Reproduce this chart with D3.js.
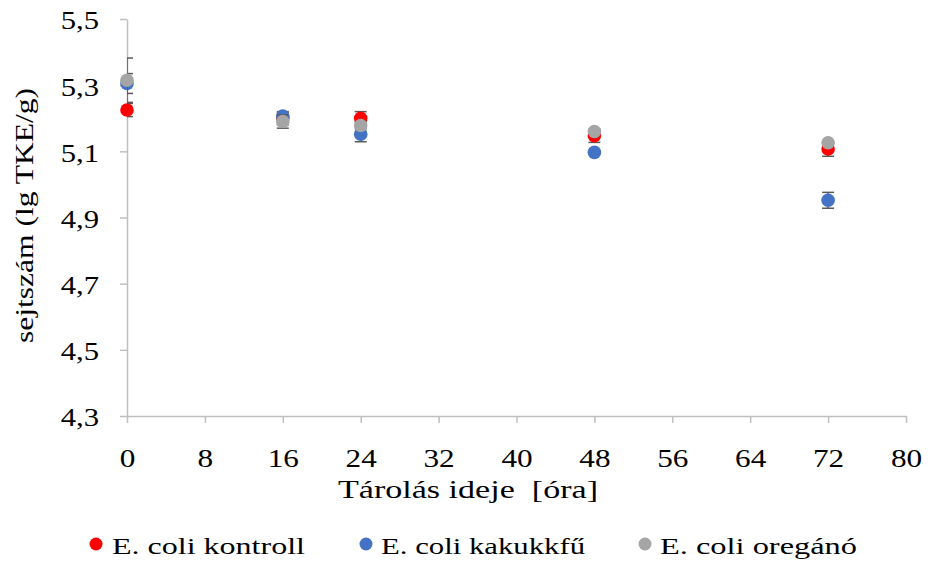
<!DOCTYPE html>
<html><head><meta charset="utf-8">
<script src="https://cdn.jsdelivr.net/npm/d3@7"></script>
<style>
html,body{margin:0;padding:0;background:#fff}
svg text{font-family:"Liberation Serif","Times New Roman",Times,serif;fill:#000}
</style>
</head><body>
<svg id="c" width="931" height="562"></svg>
<script>
const hours = [0, 16, 24, 48, 72];
const seriesNames = ["E. coli kontroll", "E. coli kakukkfű", "E. coli oregánó"];
const kontroll = [5.225, 5.200, 5.200, 5.147, 5.107];
const kontrollErr = [0.020, 0.020, 0.020, 0.020, 0.022];
const kakukk = [5.305, 5.207, 5.152, 5.097, 4.952];
const kakukkErr = [0.030, 0.010, 0.023, 0.005, 0.024];
const oregano = [5.315, 5.190, 5.178, 5.160, 5.126];
const oreganoErr = [0.067, 0.020, 0.010, 0.005, 0.005];
const xTicks = [0, 8, 16, 24, 32, 40, 48, 56, 64, 72, 80];
const yTicks = [4.3, 4.5, 4.7, 4.9, 5.1, 5.3, 5.5];
const xTitle = "Tárolás ideje\u00a0 [óra]";
const yTitle = "sejtszám (lg TKE/g)";
const colors = ["#ff0000", "#4472c4", "#a5a5a5"];

const series = [
  {name: seriesNames[0], vals: kontroll, err: kontrollErr, color: colors[0]},
  {name: seriesNames[1], vals: kakukk, err: kakukkErr, color: colors[1]},
  {name: seriesNames[2], vals: oregano, err: oreganoErr, color: colors[2]}
];

const svg = d3.select("#c");
const x = d3.scaleLinear().domain([0, 80]).range([127, 906]);
const y = d3.scaleLinear().domain([4.3, 5.5]).range([416, 19]);
const fmt = d => d3.format(".1f")(d).replace(".", ",");

function stretch(sel, ratio) {
  sel.each(function () {
    const w = this.getComputedTextLength();
    d3.select(this).attr("textLength", w * ratio).attr("lengthAdjust", "spacingAndGlyphs");
  });
}

// axes
const xa = svg.append("g").attr("transform", `translate(0,${y(4.3)})`)
  .call(d3.axisBottom(x).tickValues(xTicks).tickSize(7).tickSizeOuter(0).tickPadding(26));
const ya = svg.append("g").attr("transform", `translate(${x(0)},0)`)
  .call(d3.axisLeft(y).tickValues(yTicks).tickFormat(fmt).tickSize(7).tickSizeOuter(0).tickPadding(28));
[xa, ya].forEach(a => {
  a.attr("font-family", null).attr("font-size", null);
  a.selectAll("path,line").attr("stroke", "#bfbfbf").attr("stroke-width", 1.5);
  a.selectAll("text").style("font-size", "26px").attr("fill", "#000");
});
xa.selectAll("text").attr("dy", "0.71em").attr("text-anchor", "middle");
ya.selectAll("text").attr("dy", "0.38em").attr("text-anchor", "start");
stretch(xa.selectAll("text"), 1.2);
stretch(ya.selectAll("text"), 1.18);
ya.selectAll("text").each(function () {
  const w = +d3.select(this).attr("textLength");
  d3.select(this).attr("x", -28 - w);
});

// clip for error bars (plot area)
svg.append("clipPath").attr("id", "pa").append("rect")
  .attr("x", x(0)).attr("y", 0).attr("width", x(80) - x(0)).attr("height", y(4.3));

// points + error bars
series.forEach(s => {
  const g = svg.append("g");
  const data = hours.map((h, i) => ({h, v: s.vals[i], e: s.err[i]}));
  const eb = g.append("g").attr("clip-path", "url(#pa)").selectAll(".eb").data(data).enter().append("g")
    .attr("stroke", "#595959").attr("stroke-width", 1.5);
  eb.append("line").attr("x1", d => x(d.h)).attr("x2", d => x(d.h)).attr("y1", d => y(d.v - d.e)).attr("y2", d => y(d.v + d.e));
  eb.append("line").attr("x1", d => x(d.h) - 6).attr("x2", d => x(d.h) + 6).attr("y1", d => y(d.v + d.e)).attr("y2", d => y(d.v + d.e));
  eb.append("line").attr("x1", d => x(d.h) - 6).attr("x2", d => x(d.h) + 6).attr("y1", d => y(d.v - d.e)).attr("y2", d => y(d.v - d.e));
  g.selectAll("circle").data(data).enter().append("circle")
    .attr("cx", d => x(d.h)).attr("cy", d => y(d.v)).attr("r", 6.8).attr("fill", s.color);
});

// axis titles
svg.append("text").attr("x", 338).attr("y", 498)
  .style("font-size", "26px").attr("textLength", 260)
  .attr("lengthAdjust", "spacingAndGlyphs").text(xTitle);
svg.append("text").attr("transform", `translate(33,216) rotate(-90)`).attr("x", -127)
  .style("font-size", "26px").attr("textLength", 255)
  .attr("lengthAdjust", "spacingAndGlyphs").text(yTitle);

// legend
const legDot = [96, 366, 645];
const legText = [112, 381, 660];
const legW = [193, 204, 197];
series.forEach((s, i) => {
  svg.append("circle").attr("cx", legDot[i]).attr("cy", 544).attr("r", 6.5).attr("fill", s.color);
  svg.append("text").attr("x", legText[i]).attr("y", 554)
    .style("font-size", "24px").attr("textLength", legW[i]).attr("lengthAdjust", "spacingAndGlyphs").text(s.name);
});
</script>
</body></html>
